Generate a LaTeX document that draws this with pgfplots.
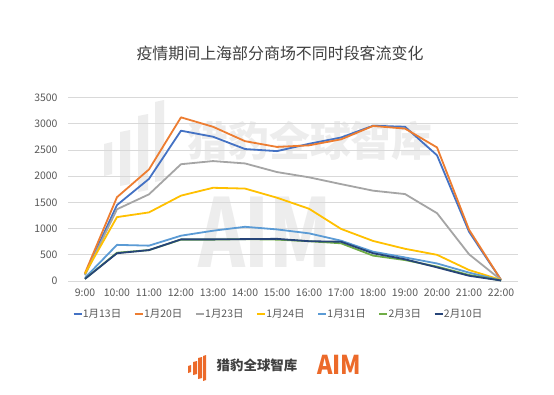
\documentclass[border=0pt]{standalone}
\usepackage{fontspec}
\setmainfont{Noto Sans CJK SC}
\usepackage{pgfplots}
\usepackage{pgfplotstable}
\pgfplotsset{compat=1.18}

\definecolor{c1}{HTML}{4472C4}
\definecolor{c2}{HTML}{ED7D31}
\definecolor{c3}{HTML}{A5A5A5}
\definecolor{c4}{HTML}{FFC000}
\definecolor{c5}{HTML}{5B9BD5}
\definecolor{c6}{HTML}{70AD47}
\definecolor{c7}{HTML}{264478}
\definecolor{wm}{HTML}{EDEDED}
\definecolor{txt}{HTML}{595959}
\definecolor{ttl}{HTML}{404040}
\definecolor{gridc}{HTML}{D9D9D9}
\definecolor{logoor}{HTML}{EC6A2A}

\pgfplotstableread{
x a b c d e f g
0 130 150 110 140 60 40 40
1 1450 1600 1370 1220 690 540 530
2 1950 2130 1655 1310 675 590 590
3 2870 3125 2230 1630 865 790 795
4 2755 2945 2290 1780 960 790 795
5 2520 2670 2245 1765 1035 800 800
6 2480 2560 2080 1590 985 790 805
7 2620 2590 1980 1380 910 760 760
8 2740 2705 1850 995 770 720 750
9 2965 2960 1725 765 560 485 530
10 2945 2910 1660 615 450 400 415
11 2400 2550 1295 500 335 275 260
12 940 980 510 210 160 115 100
13 20 20 20 20 10 10 10
}\datatable

\begin{document}
\begin{tikzpicture}
\begin{scope}[x=1bp,y=1bp]
\path[use as bounding box, fill=white] (0,0) rectangle (554,394);
% watermark
\begin{scope}[fill=wm]
\fill (104,250) -- (112,252) -- (112,220) -- (104,218) -- cycle;
\fill (120,262) -- (130,264) -- (130,210) -- (120,208) -- cycle;
\fill (138,278) -- (148,280) -- (148,204) -- (138,202) -- cycle;
\fill (155,292) -- (164,294) -- (164,214) -- (155,212) -- cycle;
\end{scope}
\node[text=wm, font=\fontsize{41}{41}\selectfont\bfseries, inner sep=0] at (310,253) {猎豹全球智库};
\node[text=wm, font=\fontsize{95}{95}\selectfont\bfseries, inner sep=0, xscale=0.75] at (265,162) {AIM};
% title
\node[text=ttl, font=\fontsize{16}{18}\selectfont] at (280,341) {疫情期间上海部分商场不同时段客流变化};
\end{scope}
\begin{axis}[
  at={(68bp,113bp)}, anchor=south west,
  scale only axis, width=450bp, height=183.3bp,
  xmin=-0.53, xmax=13.53, ymin=0, ymax=3500,
  xtick={0,...,13},
  xticklabels={9:00,10:00,11:00,12:00,13:00,14:00,15:00,16:00,17:00,18:00,19:00,20:00,21:00,22:00},
  ytick={0,500,...,3500},
  axis line style={draw=none},
  major tick length=0pt,
  ymajorgrids, grid style={color=gridc, line width=0.8bp},
  tick label style={text=txt, font=\fontsize{10.5}{12}\selectfont},
  /pgf/number format/assume math mode=true,
  /pgf/number format/1000 sep={},
  yticklabel style={xshift=-7bp},
  xticklabel style={yshift=-4bp},
  legend columns=7,
  legend image code/.code={\draw[#1] (0bp,0bp) -- (8bp,0bp);},
  legend style={at={(axis description cs:0.466,-0.179)}, anchor=center, draw=none, fill=none,
    font=\fontsize{10.5}{12}\selectfont, text=txt, inner xsep=0pt,
    nodes={inner xsep=0.5bp},
    /tikz/every even column/.append style={column sep=12bp}},
  every axis plot/.append style={line width=1.8bp, no marks, line join=round},
]
\addplot[c1] table[x=x,y=a] {\datatable};
\addplot[c2] table[x=x,y=b] {\datatable};
\addplot[c3] table[x=x,y=c] {\datatable};
\addplot[c4] table[x=x,y=d] {\datatable};
\addplot[c5] table[x=x,y=e] {\datatable};
\addplot[c6] table[x=x,y=f] {\datatable};
\addplot[c7] table[x=x,y=g] {\datatable};
\legend{1月13日,1月20日,1月23日,1月24日,1月31日,2月3日,2月10日}
\end{axis}
\begin{scope}[x=1bp,y=1bp]
% logo
\begin{scope}[fill=logoor]
\fill (188,28) -- (191,29) -- (191,22) -- (188,21) -- cycle;
\fill (193,32) -- (197,33) -- (197,20) -- (193,19) -- cycle;
\fill (198,36) -- (202,37) -- (202,16) -- (198,15) -- cycle;
\fill (203,38) -- (206,39) -- (206,14) -- (203,13) -- cycle;
\end{scope}
\node[text=ttl, font=\fontsize{13.5}{14}\selectfont\bfseries, inner sep=0] at (257,29) {猎豹全球智库};
\node[text=logoor, font=\fontsize{26}{26}\selectfont\bfseries, inner sep=0, xscale=0.9] at (339,29.5) {AIM};
\end{scope}
\end{tikzpicture}
\end{document}
